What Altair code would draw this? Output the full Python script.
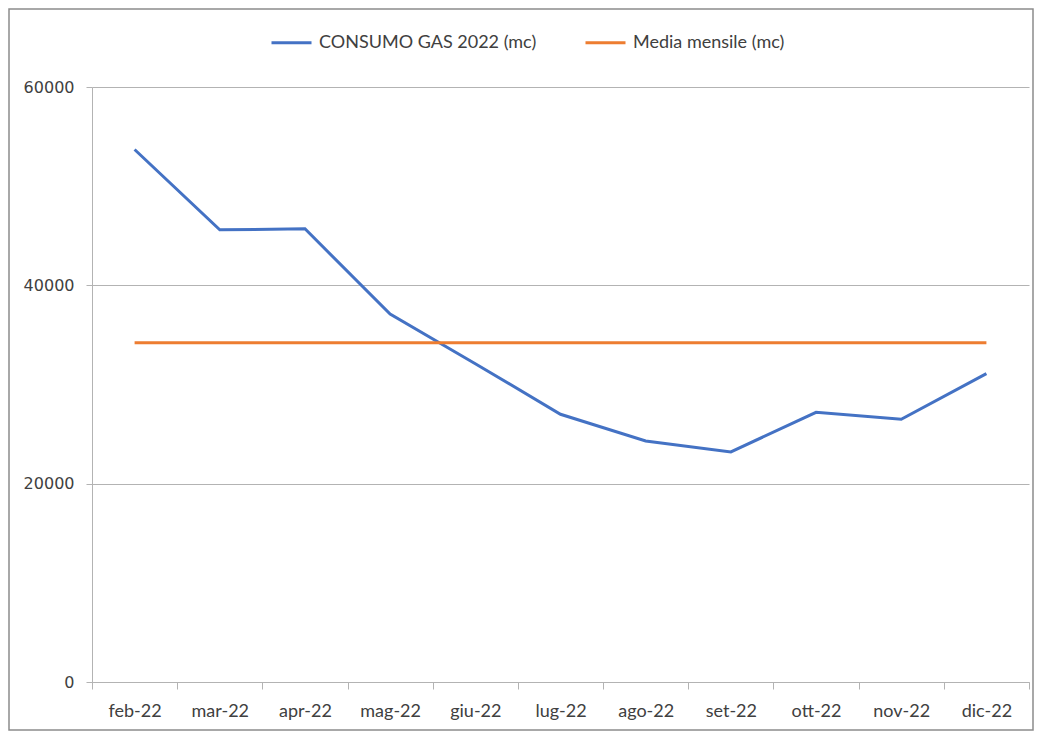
import altair as alt
import pandas as pd

months = ["feb-22", "mar-22", "apr-22", "mag-22", "giu-22", "lug-22",
          "ago-22", "set-22", "ott-22", "nov-22", "dic-22"]
consumo = [53700, 45600, 45700, 37100, 32100, 27000, 24300, 23200, 27200, 26500, 31100]
media = [34200] * len(months)
series_names = ["CONSUMO GAS 2022 (mc)", "Media mensile (mc)"]
series_colors = ["#4472C4", "#ED7D31"]
y_ticks = [0, 20000, 40000, 60000]

df_c = pd.DataFrame({"mese": months, "valore": consumo, "serie": series_names[0]})
df_m = pd.DataFrame({"mese": months, "valore": media, "serie": series_names[1]})

W, H = 937, 595
grey = "#b3b3b3"
txt = "#404040"

x_enc = alt.X(
    "mese:O", sort=months, bandPosition=0.5,
    scale=alt.Scale(type="band", paddingInner=0, paddingOuter=0),
    axis=alt.Axis(title=None, tickBand="extent", tickSize=7, grid=False, labelAngle=0,
                  labelFont="Lato", labelFontSize=18, labelColor=txt, labelPadding=13,
                  domainColor=grey, tickColor=grey, domainWidth=1, tickWidth=1),
)
y_enc = alt.Y(
    "valore:Q", scale=alt.Scale(domain=[0, 60000], nice=False),
    axis=alt.Axis(title=None, values=y_ticks, format="d", grid=True, gridColor=grey,
                  domainColor=grey, tickColor=grey, tickSize=6,
                  labelFont="DejaVu Sans", labelFontSize=16, labelColor=txt, labelPadding=12),
)
color_enc = alt.Color(
    "serie:N",
    scale=alt.Scale(domain=series_names, range=series_colors),
    legend=alt.Legend(title=None, orient="none", legendX=178, legendY=-66,
                      direction="horizontal", symbolType="stroke", symbolSize=1600,
                      symbolStrokeWidth=3, labelFont="Lato", labelFontSize=18,
                      labelColor=txt, labelOffset=6, columnPadding=42, padding=0,
                      labelLimit=400),
)

blue = alt.Chart(df_c).mark_line(strokeWidth=3).encode(x=x_enc, y=y_enc, color=color_enc)
orange = alt.Chart(df_m).mark_line(strokeWidth=3).encode(x=x_enc, y=y_enc, color=color_enc)

frame = alt.Chart(pd.DataFrame({"a": [0]})).mark_rect(
    fillOpacity=0, stroke="#8c8c8c", strokeWidth=1.5
).encode(
    x=alt.value(-83), x2=alt.value(941), y=alt.value(-78), y2=alt.value(643)
)

chart = alt.layer(blue, orange, frame).properties(
    width=W, height=H,
    autosize=alt.AutoSizeParams(type="none"),
    padding={"left": 84, "top": 79, "right": 6, "bottom": 50},
).configure_view(stroke=None)

chart.save("out.html", embed_options={"renderer": "svg", "actions": False})
